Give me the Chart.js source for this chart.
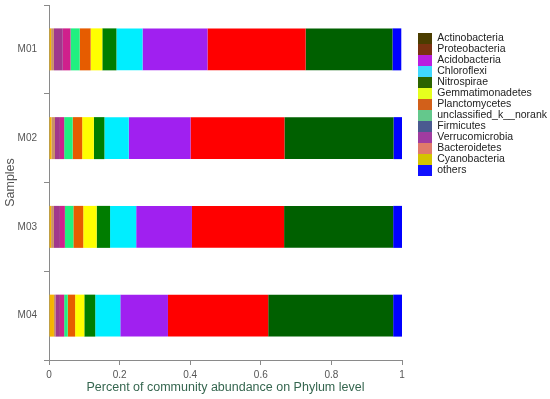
<!DOCTYPE html>
<html>
<head>
<meta charset="utf-8">
<script src="https://cdn.jsdelivr.net/npm/chart.js@4.4.1/dist/chart.umd.min.js"></script>
<style>
  html, body { margin: 0; padding: 0; background: #fff; }
  #wrap { width: 550px; height: 399px; }
</style>
</head>
<body>
<div id="wrap"><canvas id="chart" width="550" height="399"></canvas></div>
<script>
// Samples (y categories) and phylum abundances, one array per phylum (M01..M04).
const samples = ["M01", "M02", "M03", "M04"];
const xTicks = [0, 0.2, 0.4, 0.6, 0.8, 1];

// legend order, as listed on the right of the chart
const phyla = [
  "Actinobacteria", "Proteobacteria", "Acidobacteria", "Chloroflexi", "Nitrospirae",
  "Gemmatimonadetes", "Planctomycetes", "unclassified_k__norank", "Firmicutes",
  "Verrucomicrobia", "Bacteroidetes", "Cyanobacteria", "others"
];

const actinobacteria   = [0.246, 0.309, 0.309, 0.354];
const proteobacteria   = [0.278, 0.266, 0.261, 0.284];
const acidobacteria    = [0.184, 0.175, 0.158, 0.135];
const chloroflexi      = [0.074, 0.069, 0.074, 0.071];
const nitrospirae      = [0.040, 0.030, 0.038, 0.031];
const gemmatimonadetes = [0.033, 0.033, 0.038, 0.026];
const planctomycetes   = [0.031, 0.027, 0.028, 0.021];
const unclassified     = [0.026, 0.024, 0.024, 0.010];
const firmicutes       = [0.022, 0.012, 0.014, 0.012];
const verrucomicrobia  = [0.025, 0.014, 0.017, 0.013];
const bacteroidetes    = [0.008, 0.010, 0.008, 0.004];
const cyanobacteria    = [0.006, 0.007, 0.006, 0.014];
const others           = [0.025, 0.025, 0.025, 0.025];

const values = [
  actinobacteria, proteobacteria, acidobacteria, chloroflexi, nitrospirae,
  gemmatimonadetes, planctomycetes, unclassified, firmicutes,
  verrucomicrobia, bacteroidetes, cyanobacteria, others
];

// colours: what the bars show, and what the legend swatches show
const barColors = [
  "#006000", "#ff0000", "#a020f0", "#00eeff", "#007d00",
  "#ffff00", "#e65c00", "#20f080", "#d0208c",
  "#a0388c", "#c8906a", "#f5b400", "#0000ff"
];
const legendColors = [
  "#4b3d00", "#7a3210", "#b81ee0", "#40d8ff", "#2c6400",
  "#e6ff1e", "#d2601a", "#64c88c", "#4a5a90",
  "#a03ca0", "#e07a6a", "#d4c400", "#1010ff"
];

// stacking order left -> right: smallest phyla first, "others" last
const drawOrder = [11, 10, 9, 8, 7, 6, 5, 4, 3, 2, 1, 0, 12];

const AXIS = "#8a8a8a", TICK = "#555555";
const LEGEND_W = 132;   // legend box width on the right

const datasets = drawOrder.map(i => ({
  label: phyla[i],
  data: values[i],
  backgroundColor: barColors[i],
  borderWidth: 0,
  barPercentage: 0.473,
  categoryPercentage: 1.0,
  legendIdx: i
}));

// the layout caps a right-hand box at a fraction of the width; give the legend its full width
const legendWidth = {
  id: "legendWidth",
  beforeLayout(chart) {
    const lg = chart.legend;
    if (!lg || lg._wide) return;
    const fit = lg.fit;
    lg.fit = function () { fit.call(this); this.width = LEGEND_W; };
    lg._wide = true;
  }
};

new Chart(document.getElementById("chart"), {
  type: "bar",
  data: { labels: samples, datasets },
  plugins: [legendWidth],
  options: {
    indexAxis: "y",
    responsive: false,
    animation: false,
    layout: { padding: { top: 5, right: 0, left: 0, bottom: 0 } },
    scales: {
      x: {
        stacked: true, min: 0, max: 1,
        afterBuildTicks: (s) => { s.ticks = xTicks.map(v => ({ value: v })); },
        ticks: { color: TICK, font: { family: "Liberation Sans, Arial", size: 10 }, padding: 4,
                 callback: (v) => String(v) },
        grid: { drawOnChartArea: false, tickLength: 5, color: AXIS },
        border: { color: AXIS },
        title: { display: true, text: "Percent of community abundance on Phylum level",
                 color: "#35664f", font: { family: "Liberation Sans, Arial", size: 12.5 },
                 padding: { top: 2, bottom: 4 } },
        afterFit: (s) => { s.height = 39; }
      },
      y: {
        stacked: true,
        ticks: { color: TICK, font: { family: "Liberation Sans, Arial", size: 10 }, padding: 7 },
        grid: { drawOnChartArea: false, tickLength: 5, color: AXIS, offset: true },
        border: { color: AXIS },
        title: { display: true, text: "Samples", color: "#555555",
                 font: { family: "Liberation Sans, Arial", size: 12.5 },
                 padding: { top: 3, bottom: 0 } },
        afterFit: (s) => { s.width = 49; s.paddingTop = 0; s.paddingBottom = 0; }
      },
      gap: {
        type: "category", position: "right", labels: samples,
        grid: { display: false }, border: { display: false },
        ticks: { display: false },
        afterFit: (s) => { s.width = 16; s.paddingTop = 0; s.paddingBottom = 0; }
      }
    },
    plugins: {
      tooltip: { enabled: false },
      legend: {
        position: "right", align: "start",
        title: { display: true, text: " ", font: { size: 10, lineHeight: 1 }, padding: { top: 0, bottom: 18 } },
        labels: {
          boxWidth: 14, boxHeight: 11, padding: 0, color: "#222222",
          font: { family: "Liberation Sans, Arial", size: 10.5 },
          sort: (a, b) => datasets[a.datasetIndex].legendIdx - datasets[b.datasetIndex].legendIdx,
          generateLabels: (chart) => {
            const items = Chart.defaults.plugins.legend.labels.generateLabels(chart);
            items.forEach(it => {
              const c = legendColors[datasets[it.datasetIndex].legendIdx];
              it.fillStyle = c; it.strokeStyle = c; it.lineWidth = 0;
            });
            return items;
          }
        }
      }
    }
  }
});
</script>
</body>
</html>
